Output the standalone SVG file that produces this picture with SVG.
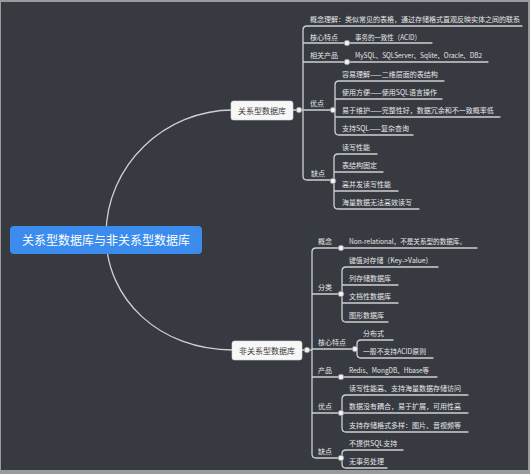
<svg xmlns="http://www.w3.org/2000/svg" width="530" height="474" viewBox="0 0 530 474">
<defs>
<style>
.ln{fill:none;stroke:#cfd0d2;stroke-width:1.3;stroke-linecap:round;stroke-linejoin:round}
.t{font-family:"Noto Sans CJK SC","Noto Sans",sans-serif;font-size:7px;fill:#e6e7e9}
.nt{font-family:"Noto Sans CJK SC","Noto Sans",sans-serif;font-size:8px;fill:#3a3a3a;text-anchor:middle}
.rt{font-family:"Noto Sans CJK SC","Noto Sans",sans-serif;font-size:12px;fill:#ffffff;text-anchor:middle}
.dot{fill:#f2f2f2;stroke:#8a8d92;stroke-width:0.8}
.box{fill:#f7f7f7;stroke:#d8d8d8;stroke-width:0.6}
</style>
</defs>
<rect x="0" y="0" width="530" height="474" fill="#9a9b9d"/>
<rect x="1" y="2" width="527" height="468" fill="#373a40"/>

<g id="connectors">
<path class="ln" d="M233 110 C165 110 106 165 106 235 C106 300 160 350 233 350"/>
<path class="ln" d="M293 110 H303 M303 30 Q303 26 307 26 H522 M303 30 V176 Q303 180 307 180 H333 M303 43 H432 M303 62 H488 M303 110 H333"/>
<path class="ln" d="M335 85 Q335 81 339 81 H444 M335 85 V131 Q335 135 339 135 H413 M335 99 H442 M335 117 H500"/>
<path class="ln" d="M334 158 Q334 154 338 154 H377 M334 158 V205 Q334 209 338 209 H419 M334 172 H383 M334 191 H398"/>
<path class="ln" d="M302 350 H312 M312 252 Q312 248 316 248 H477 M312 252 V454 Q312 458 316 458 H341 M312 294 H341 M312 349 H355 M312 377 H437 M312 413 H468"/>
<path class="ln" d="M342 271 Q342 267 346 267 H438 M342 271 V318 Q342 322 346 322 H388 M342 285 H398 M342 303 H398"/>
<path class="ln" d="M357 344 Q357 340 361 340 H393 M357 344 V354 Q357 358 361 358 H433"/>
<path class="ln" d="M342 399 Q342 395 346 395 H468 M342 399 V428 Q342 432 346 432 H468"/>
<path class="ln" d="M342 454 Q342 450 346 450 H403 M342 454 V464 Q342 468 346 468 H387"/>
<circle class="dot" cx="299" cy="110" r="2.8"/>
<circle class="dot" cx="347" cy="43" r="2.8"/>
<circle class="dot" cx="347" cy="62" r="2.8"/>
<circle class="dot" cx="333" cy="110" r="2.8"/>
<circle class="dot" cx="333" cy="181" r="2.8"/>
<circle class="dot" cx="307" cy="350" r="2.8"/>
<circle class="dot" cx="341" cy="248" r="2.8"/>
<circle class="dot" cx="341" cy="294" r="2.8"/>
<circle class="dot" cx="355" cy="349" r="2.8"/>
<circle class="dot" cx="341" cy="377" r="2.8"/>
<circle class="dot" cx="341" cy="413" r="2.8"/>
<circle class="dot" cx="341" cy="458" r="2.8"/>
</g>

<g id="root">
<rect x="10" y="226" width="192" height="28" rx="4" fill="#3b8cec"/>
<text class="rt" x="106" y="244.5">关系型数据库与非关系型数据库</text>
</g>

<g id="node-relational">
<rect class="box" x="231" y="101" width="62" height="19" rx="2.5"/>
<text class="nt" x="262" y="113.5">关系型数据库</text>
</g>
<g id="node-nonrelational">
<rect class="box" x="232" y="341" width="70" height="19" rx="2.5"/>
<text class="nt" x="267" y="353.5">非关系型数据库</text>
</g>

<g id="relational-branches">
<text class="t" x="310" y="22">概念理解：类似常见的表格，通过存储格式直观反映实体之间的联系</text>
<text class="t" x="310" y="40">核心特点</text>
<text class="t" x="355" y="40" textLength="66" lengthAdjust="spacingAndGlyphs">事务的一致性（ACID）</text>
<text class="t" x="310" y="58">相关产品</text>
<text class="t" x="355" y="58" textLength="127" lengthAdjust="spacingAndGlyphs">MySQL、SQLServer、Sqlite、Oracle、DB2</text>
<text class="t" x="310" y="106">优点</text>
<text class="t" x="342" y="77">容易理解——二维层面的表结构</text>
<text class="t" x="342" y="95">使用方便——使用SQL语言操作</text>
<text class="t" x="342" y="113">易于维护——完整性好，数据冗余和不一致概率低</text>
<text class="t" x="342" y="131">支持SQL——复杂查询</text>
<text class="t" x="311" y="176">缺点</text>
<text class="t" x="342" y="150">读写性能</text>
<text class="t" x="342" y="168">表结构固定</text>
<text class="t" x="342" y="187">高并发读写性能</text>
<text class="t" x="342" y="205">海量数据无法高效读写</text>
</g>

<g id="nonrelational-branches">
<text class="t" x="318" y="244">概念</text>
<text class="t" x="349" y="244" textLength="117" lengthAdjust="spacingAndGlyphs">Non-relational，不是关系型的数据库。</text>
<text class="t" x="318" y="290">分类</text>
<text class="t" x="349" y="263" textLength="79" lengthAdjust="spacingAndGlyphs">键值对存储（Key-&gt;Value)</text>
<text class="t" x="349" y="281">列存储数据库</text>
<text class="t" x="349" y="299">文档性数据库</text>
<text class="t" x="349" y="318">图形数据库</text>
<text class="t" x="318" y="345">核心特点</text>
<text class="t" x="363" y="336">分布式</text>
<text class="t" x="363" y="354" textLength="63" lengthAdjust="spacingAndGlyphs">一般不支持ACID原则</text>
<text class="t" x="318" y="373">产品</text>
<text class="t" x="349" y="373" textLength="80" lengthAdjust="spacingAndGlyphs">Redis、MongDB、Hbase等</text>
<text class="t" x="318" y="409">优点</text>
<text class="t" x="349" y="391">读写性能高、支持海量数据存储访问</text>
<text class="t" x="349" y="409">数据没有耦合，易于扩展，可用性高</text>
<text class="t" x="349" y="428">支持存储格式多样：图片、音视频等</text>
<text class="t" x="318" y="454">缺点</text>
<text class="t" x="349" y="446">不提供SQL支持</text>
<text class="t" x="349" y="464">无事务处理</text>
</g>
</svg>
